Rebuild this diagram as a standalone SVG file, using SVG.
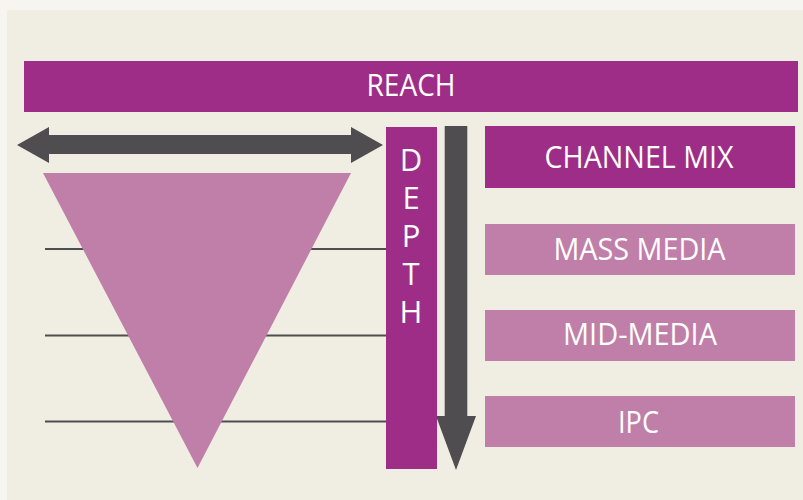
<svg xmlns="http://www.w3.org/2000/svg" width="803" height="500" viewBox="0 0 803 500">
  <style>
    .dark { fill: #9e2d88; }
    .light { fill: #c07fa8; }
    .grey { fill: #4f4d4f; }
    .rule { stroke: #4f4d4f; stroke-width: 2.2; fill: none; }
    .lbl { font-family: "Open Sans", "Liberation Sans", sans-serif; font-weight: 400; font-size: 31px; fill: #ffffff; text-anchor: middle; }
  </style>

  <!-- page and panel -->
  <rect x="0" y="0" width="803" height="500" fill="#f6f5f0"/>
  <rect x="7" y="10" width="796" height="490" fill="#f0eee3"/>

  <!-- level rules behind the funnel -->
  <g id="rules">
    <line class="rule" x1="45" y1="249" x2="386" y2="249"/>
    <line class="rule" x1="45" y1="335.5" x2="387" y2="335.5"/>
    <line class="rule" x1="45" y1="421.5" x2="390" y2="421.5"/>
  </g>

  <!-- funnel -->
  <g id="funnel">
    <polygon class="light" points="43,173 351,173 197.5,468"/>
  </g>

  <!-- reach bar -->
  <g id="reach">
    <rect class="dark" x="24" y="61" width="774" height="51"/>
    <text class="lbl" x="411" y="96" textLength="89" lengthAdjust="spacingAndGlyphs">REACH</text>
  </g>

  <!-- arrows -->
  <g id="connectors">
    <polygon class="grey" points="17,145 49,127 49,135 351,135 351,127 383,145 351,163 351,154 49,154 49,163"/>
    <polygon class="grey" points="444.7,126 467.3,126 467.3,416 476,416 456,470 436,416 444.7,416"/>
  </g>

  <!-- depth bar -->
  <g id="depth">
    <rect class="dark" x="386" y="127" width="51" height="342"/>
    <text class="lbl" x="411" y="171">D</text>
    <text class="lbl" x="411" y="209">E</text>
    <text class="lbl" x="411" y="247">P</text>
    <text class="lbl" x="411" y="285">T</text>
    <text class="lbl" x="411" y="323">H</text>
  </g>

  <!-- channel boxes -->
  <g id="channel-mix">
    <rect class="dark" x="485" y="126" width="310" height="62"/>
    <text class="lbl" x="639" y="168" textLength="189" lengthAdjust="spacingAndGlyphs">CHANNEL MIX</text>
  </g>
  <g id="mass-media">
    <rect class="light" x="485" y="224" width="310" height="51"/>
    <text class="lbl" x="639.5" y="260" textLength="172" lengthAdjust="spacingAndGlyphs">MASS MEDIA</text>
  </g>
  <g id="mid-media">
    <rect class="light" x="485" y="310" width="310" height="51"/>
    <text class="lbl" x="640" y="345" textLength="154" lengthAdjust="spacingAndGlyphs">MID-MEDIA</text>
  </g>
  <g id="ipc">
    <rect class="light" x="485" y="396" width="310" height="51"/>
    <text class="lbl" x="638.5" y="433" textLength="41" lengthAdjust="spacingAndGlyphs">IPC</text>
  </g>
</svg>
